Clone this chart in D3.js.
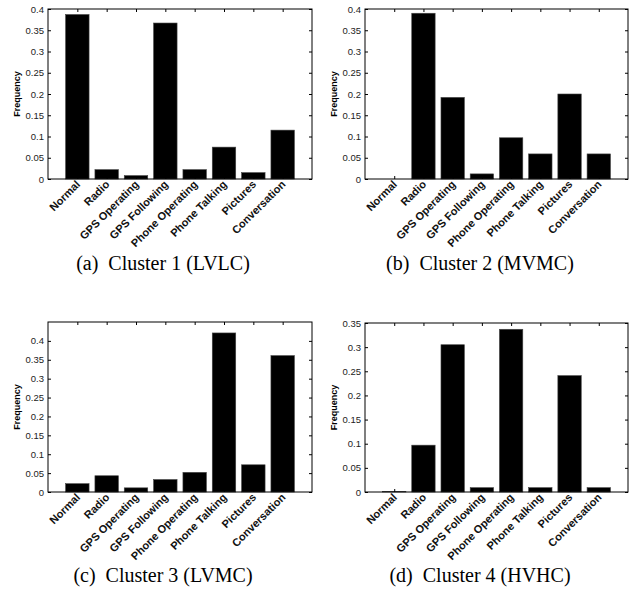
<!DOCTYPE html>
<html>
<head>
<meta charset="utf-8">
<script src="https://cdn.jsdelivr.net/npm/d3@7"></script>
<style>
html,body{margin:0;padding:0;background:#fff;}
svg{display:block;}
</style>
</head>
<body>
<svg id="chart" width="629" height="597"></svg>
<script>
// ---- data ----
const categories = ["Normal","Radio","GPS Operating","GPS Following","Phone Operating","Phone Talking","Pictures","Conversation"];
const cluster1 = [0.387,0.022,0.008,0.367,0.022,0.075,0.015,0.115];
const cluster2 = [0.000,0.390,0.192,0.012,0.097,0.059,0.200,0.059];
const cluster3 = [0.022,0.043,0.011,0.033,0.052,0.421,0.072,0.361];
const cluster4 = [0.001,0.097,0.305,0.009,0.337,0.009,0.241,0.009];
const captions = ["(a)  Cluster 1 (LVLC)","(b)  Cluster 2 (MVMC)","(c)  Cluster 3 (LVMC)","(d)  Cluster 4 (HVHC)"];
const yMax = [0.4, 0.4, 0.45, 0.35];
const yTicksA = [0,0.05,0.1,0.15,0.2,0.25,0.3,0.35,0.4];
const yTickLabelsA = ["0","0.05","0.1","0.15","0.2","0.25","0.3","0.35","0.4"];
const yTicksD = [0,0.05,0.1,0.15,0.2,0.25,0.3,0.35];
const yTickLabelsD = ["0","0.05","0.1","0.15","0.2","0.25","0.3","0.35"];
const yLabel = "Frequency";

// ---- layout ----
const panels = [
  {vals: cluster1, x0: 48,  x1: 312, y0: 9,   y1: 179, ticks: yTicksA, labels: yTickLabelsA, ylab: 17,  capX: 163, capY: 270},
  {vals: cluster2, x0: 365, x1: 628, y0: 9,   y1: 179, ticks: yTicksA, labels: yTickLabelsA, ylab: 334, capX: 480, capY: 270},
  {vals: cluster3, x0: 48,  x1: 312, y0: 322, y1: 492, ticks: yTicksA, labels: yTickLabelsA, ylab: 17,  capX: 163, capY: 582},
  {vals: cluster4, x0: 365, x1: 628, y0: 323, y1: 492, ticks: yTicksD, labels: yTickLabelsD, ylab: 334, capX: 480, capY: 582}
];

const svg = d3.select("#chart");
const sans = "Liberation Sans, Arial, Helvetica, sans-serif";

panels.forEach((p, pi) => {
  const g = svg.append("g");
  const x = d3.scaleLinear().domain([0, categories.length + 1]).range([p.x0, p.x1]);
  const y = d3.scaleLinear().domain([0, yMax[pi]]).range([p.y1, p.y0]);
  const bw = x(0.8) - x(0);

  // bars
  g.selectAll("rect.bar").data(p.vals).enter().append("rect")
    .attr("class","bar")
    .attr("x", (d,i) => x(i+1) - bw/2)
    .attr("width", bw)
    .attr("y", d => y(d))
    .attr("height", d => Math.max(0, y(0) - y(d)))
    .attr("fill", "#000")
    .attr("stroke", "#444")
    .attr("stroke-width", 0.6);

  // left axis
  const left = d3.axisLeft(y).tickValues(p.ticks).tickFormat((d,i) => p.labels[i]).tickSizeInner(-3).tickSizeOuter(0).tickPadding(4);
  const gl = g.append("g").attr("transform", `translate(${p.x0},0)`).call(left);
  gl.select(".domain").remove();
  gl.selectAll("text").attr("font-family", sans).attr("font-size", "9.5px").attr("fill", "#222");
  gl.selectAll("line").attr("stroke", "#000");

  // right ticks
  const right = d3.axisRight(y).tickValues(p.ticks).tickFormat("").tickSizeInner(-3).tickSizeOuter(0);
  const gr = g.append("g").attr("transform", `translate(${p.x1},0)`).call(right);
  gr.select(".domain").remove();
  gr.selectAll("line").attr("stroke", "#000");

  // top ticks
  const catIdx = categories.map((c,i) => i+1);
  const top = d3.axisTop(x).tickValues(catIdx).tickFormat("").tickSizeInner(-3).tickSizeOuter(0);
  const gt = g.append("g").attr("transform", `translate(0,${p.y0})`).call(top);
  gt.select(".domain").remove();
  gt.selectAll("line").attr("stroke", "#000");

  // bottom axis with rotated labels
  const bottom = d3.axisBottom(x).tickValues(catIdx).tickFormat((d) => categories[d-1]).tickSizeInner(-3).tickSizeOuter(0);
  const gb = g.append("g").attr("transform", `translate(0,${p.y1})`).call(bottom);
  gb.select(".domain").remove();
  gb.selectAll("line").attr("stroke", "#000");
  gb.selectAll("text")
    .attr("font-family", sans).attr("font-size", "11px").attr("font-weight", "bold").attr("fill", "#111")
    .attr("text-anchor", "end")
    .attr("dy", null).attr("y", null)
    .attr("transform", "translate(3,6) rotate(-45)");

  // box
  g.append("rect").attr("x", p.x0).attr("y", p.y0).attr("width", p.x1 - p.x0).attr("height", p.y1 - p.y0)
    .attr("fill", "none").attr("stroke", "#000").attr("stroke-width", 1);

  // y label
  g.append("text")
    .attr("transform", `translate(${p.ylab},${(p.y0+p.y1)/2}) rotate(-90)`)
    .attr("text-anchor", "middle").attr("dy", "0.35em")
    .attr("font-family", sans).attr("font-size", "9px").attr("font-weight", "bold")
    .text(yLabel);

  // caption
  g.append("text")
    .attr("x", p.capX).attr("y", p.capY)
    .attr("text-anchor", "middle")
    .attr("font-family", "Liberation Serif, Times New Roman, serif").attr("font-size", "20px")
    .style("white-space", "pre")
    .text(captions[pi]);
});
</script>
</body>
</html>
